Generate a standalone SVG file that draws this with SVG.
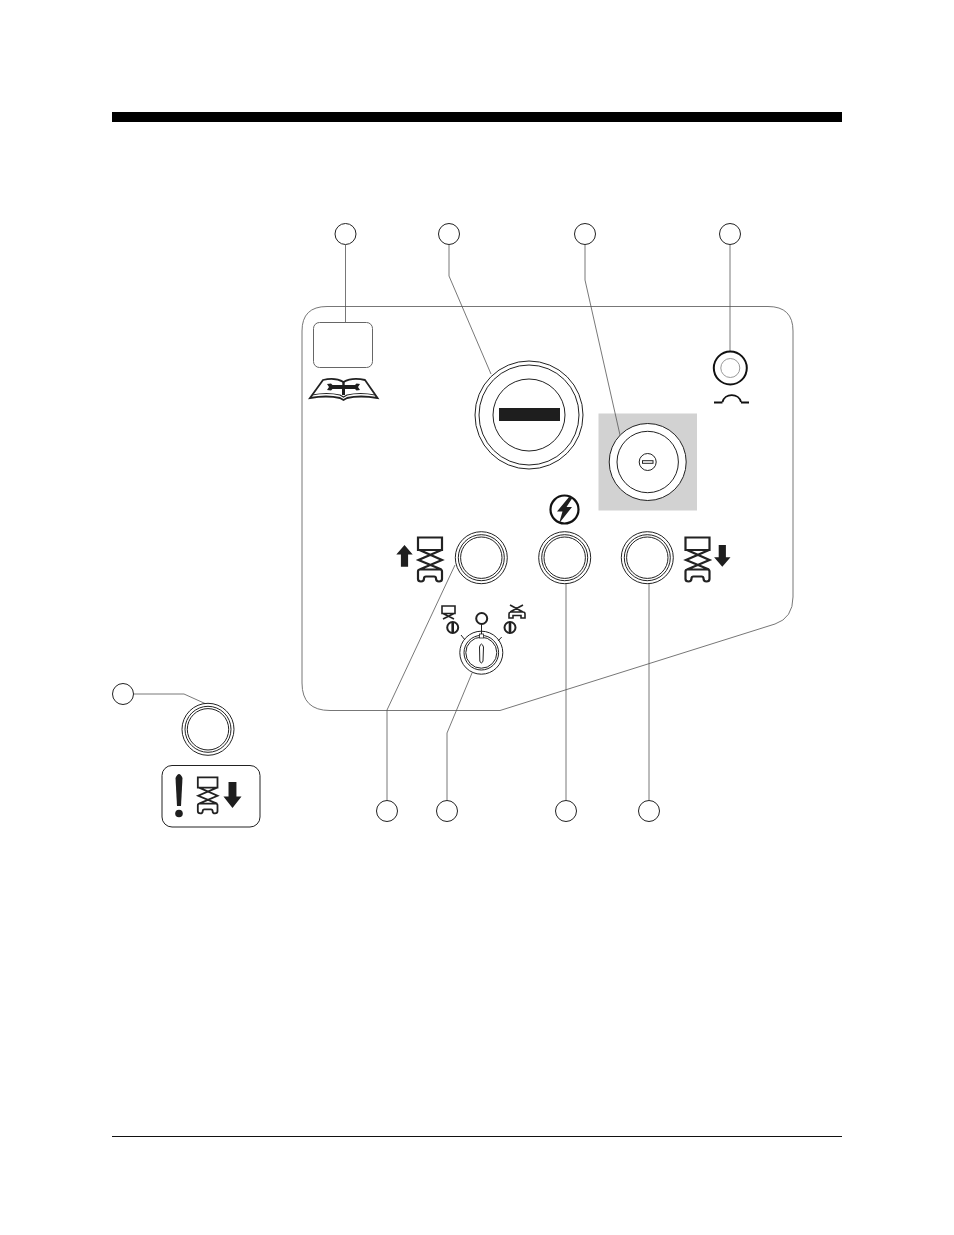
<svg xmlns="http://www.w3.org/2000/svg" width="954" height="1235" viewBox="0 0 954 1235">
<style>
.l{fill:none;stroke:#555;stroke-width:.8}
.c{fill:#fff;stroke:#222;stroke-width:1}
.o{fill:none;stroke:#222;stroke-width:1}
.k{fill:#1e1e1e;stroke:none}
.t{fill:none;stroke:#222;stroke-width:2.200}
</style>
<defs>
<g id="lift">
<path class="t" d="M1 1H25V13.500H1ZM2.500 13.500L25 23.500L2.500 33M24.500 13.500L1.500 23.500L24.500 33M1 35V42.500Q1 45 4 45Q7 45 7 42Q7 40 9 40H17Q19 40 19 42Q19 45 22 45Q25 45 25 42.500V35Q25 33 23 33H3Q1 33 1 35Z"/>
</g>
<g id="btn">
<circle r="26" class="o"/><circle r="23" class="o"/><circle r="20.700" class="o"/>
</g>
<path id="aup" class="k" d="M8.200 0L16.400 9.500H11.800V21.700H4.600V9.500H0Z"/>
<g id="pos">
<circle r="5.500" fill="none" stroke="#222" stroke-width="2"/><rect x="-1.300" y="-5" width="2.600" height="10" class="k"/>
</g>
</defs>
<g id="page-rules">
<rect x="112" y="112" width="730" height="10" fill="#000"/>
<rect x="112" y="1136" width="730" height="1" fill="#111"/>
</g>
<g id="panel">
<path d="M327 306.500H768Q793 306.500 793 331V597Q793 618 775 624L500 710.500H330Q302 710.500 302 683V331Q302 306.500 327 306.500Z" fill="none" stroke="#777" stroke-width="1"/>
<rect x="598.500" y="413.500" width="98.500" height="97" fill="#d2d2d2"/>
</g>
<g id="connectors">
<path class="l" d="M345.500 245V322"/>
<path class="l" d="M449 245V276L491 374"/>
<path class="l" d="M585 245V280L620 435"/>
<path class="l" d="M730 245V351"/>
<path class="l" d="M387 800V710L455 565"/>
<path class="l" d="M447 800V733L472 673"/>
<path class="l" d="M566 800V584"/>
<path class="l" d="M649 800V584"/>
<path class="l" d="M134 694H184L205 703.500"/>
</g>
<g id="callouts">
<circle class="c" cx="345.500" cy="234" r="10.500"/>
<circle class="c" cx="449" cy="234" r="10.500"/>
<circle class="c" cx="585" cy="234" r="10.500"/>
<circle class="c" cx="730" cy="234" r="10.500"/>
<circle class="c" cx="387" cy="811" r="10.500"/>
<circle class="c" cx="447" cy="811" r="10.500"/>
<circle class="c" cx="566" cy="811" r="10.500"/>
<circle class="c" cx="649" cy="811" r="10.500"/>
<circle class="c" cx="123" cy="694" r="10.500"/>
</g>
<g id="label-plate">
<rect x="313.500" y="322.500" width="59" height="45" rx="6" fill="none" stroke="#666" stroke-width="1"/>
</g>
<g id="book">
<path d="M310 398L323 380Q335 377 343.500 382Q352 377 365 380L377.500 398Q360 395 347 398L343.500 400L340 398Q327 395 310 398Z" fill="#fff" stroke="#222" stroke-width="1.800"/>
<path d="M312 395Q327 392 340 395L343.500 397L347 395Q360 392 375 395" fill="none" stroke="#222" stroke-width="1.200"/>
<path class="k" d="M327 384L331 383.500L332.500 385H355L356.500 383.500L360 384L358 387L360 390L356.500 390.500L355 389H345V395H342V389H332.500L331 390.500L327 390L329 387Z"/>
<rect x="342.300" y="381" width="2.400" height="8" class="k"/>
</g>
<g id="main-switch">
<circle cx="529" cy="415" r="54" class="o"/>
<circle cx="529" cy="415" r="50" class="o"/>
<circle cx="529" cy="415" r="36" class="o"/>
<rect x="499" y="408" width="61" height="13" class="k"/>
</g>
<g id="key-switch">
<circle cx="647.700" cy="462" r="38.500" fill="#fff" stroke="#222"/>
<circle cx="647.700" cy="462" r="30.700" fill="none" stroke="#222"/>
<circle cx="647.700" cy="462" r="8.500" fill="none" stroke="#222"/>
<rect x="642.500" y="460.700" width="10.500" height="2.600" fill="none" stroke="#222"/>
</g>
<g id="indicator">
<circle cx="730.300" cy="368" r="16.500" fill="none" stroke="#111" stroke-width="2"/>
<circle cx="730.300" cy="368" r="9.500" fill="none" stroke="#999" stroke-width="1"/>
<path d="M714 402.500H722.500M741 402.500H749" stroke="#111" stroke-width="2" fill="none"/>
<path d="M722.500 402A9.500 9 0 0 1 741 402" stroke="#111" stroke-width="1.800" fill="none"/>
</g>
<g id="power-icon">
<circle cx="564.500" cy="509.500" r="14" fill="none" stroke="#111" stroke-width="2.200"/>
<path class="k" d="M569 497L557 511.500H562.500L559 523.500L572 507H566.500L573 497Z"/>
</g>
<g id="up-button">
<use href="#btn" x="481.300" y="557.700"/>
<use href="#lift" x="417" y="536.500"/>
<use href="#aup" x="396.300" y="545"/>
</g>
<g id="middle-button">
<use href="#btn" x="564.700" y="557.700"/>
</g>
<g id="down-button">
<use href="#btn" x="647.300" y="557.700"/>
<use href="#lift" x="684.500" y="536.500"/>
<use href="#aup" transform="translate(730.500 566.700) rotate(180)"/>
</g>
<g id="selector">
<circle cx="481.300" cy="652.700" r="21.500" class="o"/>
<circle cx="481.300" cy="652.700" r="17.300" class="o"/>
<circle cx="481.300" cy="652.700" r="15.500" class="o"/>
<path d="M479.500 647Q481.300 641 483.500 647L483 661Q481.300 665 479.800 661Z" fill="#fff" stroke="#222"/>
<rect x="479.500" y="634" width="4" height="4" fill="#fff" stroke="#222" stroke-width=".8"/>
<path d="M481.500 624V634M461 635L465 640M501.700 637L498 641" stroke="#222" fill="none"/>
<circle cx="481.700" cy="618.500" r="5.500" fill="none" stroke="#222" stroke-width="2"/>
<use href="#pos" x="452.700" y="627.500"/>
<use href="#pos" x="510" y="627.500"/>
<path d="M442 606H455V613.500H442ZM443 619L454 613.500M454 619L443 613.500" fill="none" stroke="#222" stroke-width="1.600"/>
<path d="M509 618V614Q509 612 511 612H523Q525 612 525 614V618H521V615.500H513V618ZM510 605L523 612M523 605L510 612" fill="none" stroke="#222" stroke-width="1.600"/>
</g>
<g id="override-button">
<use href="#btn" x="208" y="729.300"/>
<rect x="162" y="765.500" width="98" height="61.500" rx="10" fill="none" stroke="#222" stroke-width="1"/>
<path class="k" d="M175.500 778Q179 770 182.500 778L181 806H177Z"/>
<circle cx="179" cy="813.500" r="3.800" class="k"/>
<use href="#lift" transform="translate(197 776.500) scale(.82)"/>
<use href="#aup" transform="translate(241.500 808) rotate(180) scale(1.100 1.200)"/>
</g>
</svg>
